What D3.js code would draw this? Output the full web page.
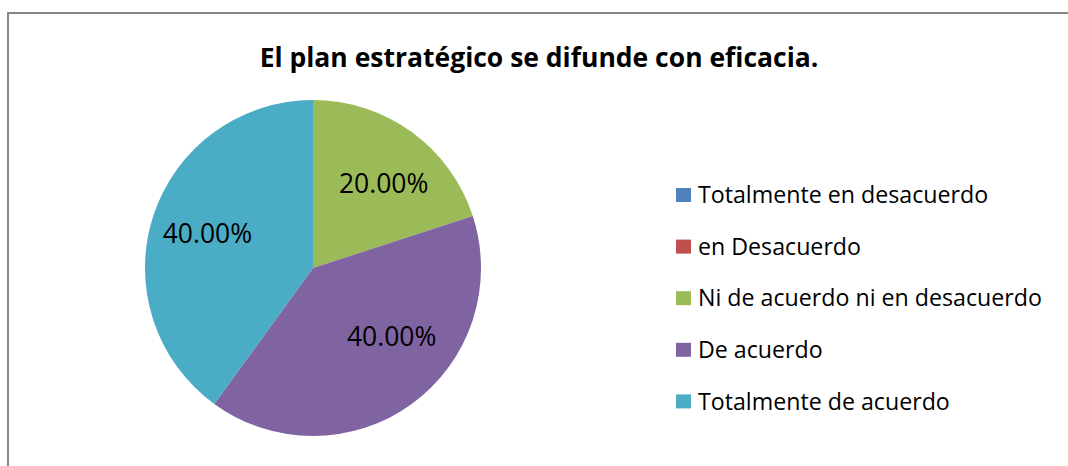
<!DOCTYPE html>
<html>
  <head>
    <meta charset="utf-8">
    <title>El plan estratégico</title>
    <script src="https://d3js.org/d3.v7.min.js"></script>
    <style>
      body { margin: 0; background: #fff; }
      text { font-family: "Open Sans", Lato, sans-serif; fill: #000; }
    </style>
  </head>
  <body>
    <script>
      // chart data
      var categories = ["Totalmente en desacuerdo", "en Desacuerdo", "Ni de acuerdo ni en desacuerdo", "De acuerdo", "Totalmente de acuerdo"];
      var values = [0, 0, 20, 40, 40];
      var colors = ["#4f81bd", "#c0504d", "#9bbb59", "#8064a2", "#4bacc6"];
      var title = "El plan estratégico se difunde con eficacia.";

      var w = 1068, h = 466;
      var cx = 313, cy = 268, radius = 168;

      var svg = d3.select("body").append("svg")
        .attr("width", w)
        .attr("height", h);

      // outer frame (cut off at right and bottom)
      svg.append("rect")
        .attr("x", 8).attr("y", 13)
        .attr("width", w).attr("height", h)
        .attr("fill", "none")
        .attr("stroke", "#868686")
        .attr("stroke-width", 2);

      svg.append("text")
        .attr("x", 539).attr("y", 67)
        .attr("text-anchor", "middle")
        .style("font-weight", "bold")
        .style("font-size", "26.5px")
        .text(title);

      var data = categories.map(function(c, i) { return {name: c, value: values[i], color: colors[i]}; });

      var pie = d3.pie().sort(null).value(function(d) { return d.value; });
      var arc = d3.arc().innerRadius(0).outerRadius(radius);
      var labelArc = d3.arc().innerRadius(110).outerRadius(110);

      var g = svg.append("g").attr("transform", "translate(" + cx + "," + cy + ")");
      var slices = pie(data).filter(function(d) { return d.data.value > 0; });

      g.selectAll("path")
        .data(slices)
        .enter().append("path")
        .attr("d", arc)
        .attr("fill", function(d) { return d.data.color; });

      // small nudges so labels sit where the original puts them
      var nudge = {"Ni de acuerdo ni en desacuerdo": [6, 5], "De acuerdo": [14, -20], "Totalmente de acuerdo": [-1, 0]};

      g.selectAll(".lbl")
        .data(slices)
        .enter().append("text")
        .attr("class", "lbl")
        .attr("transform", function(d) {
          var c = labelArc.centroid(d), n = nudge[d.data.name] || [0, 0];
          return "translate(" + (c[0] + n[0]) + "," + (c[1] + n[1]) + ")";
        })
        .attr("text-anchor", "middle")
        .attr("dy", "0.35em")
        .style("font-size", "26.5px")
        .text(function(d) { return (d.data.value).toFixed(2) + "%"; });

      // legend
      var legend = svg.append("g").attr("transform", "translate(676,195)");
      var item = legend.selectAll(".item")
        .data(data)
        .enter().append("g")
        .attr("class", "item")
        .attr("transform", function(d, i) { return "translate(0," + (i * 51.6) + ")"; });

      item.append("rect")
        .attr("x", 0).attr("y", -7)
        .attr("width", 15).attr("height", 14)
        .attr("fill", function(d) { return d.color; });

      item.append("text")
        .attr("x", 22).attr("dy", "0.35em")
        .style("font-size", "23.2px")
        .text(function(d) { return d.name; });
    </script>
  </body>
</html>
